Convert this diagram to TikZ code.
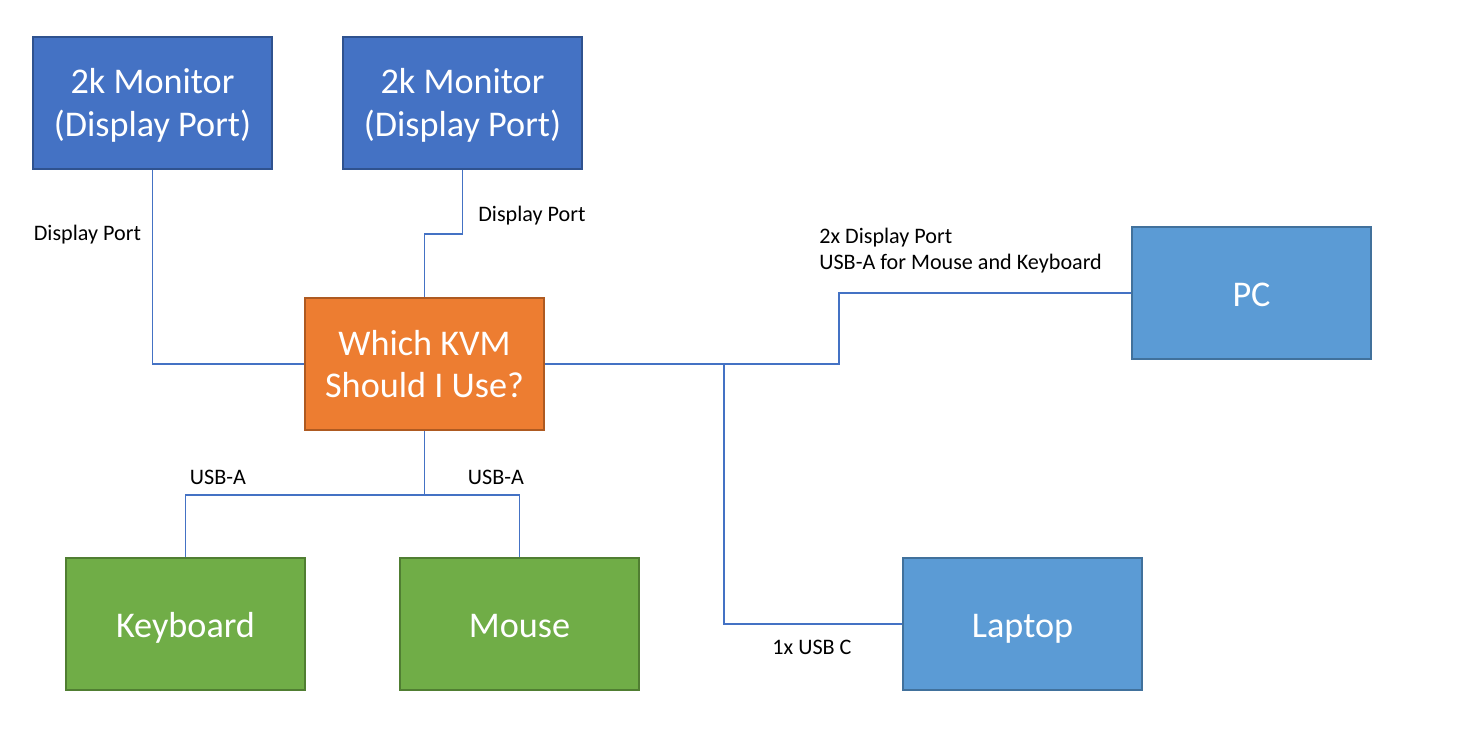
\documentclass[tikz,border=0pt]{standalone}
\usepackage{fontspec}
\setmainfont{Carlito}
\usepackage{tikz}

\definecolor{monblue}{HTML}{4472C4}
\definecolor{monedge}{HTML}{2F528F}
\definecolor{kvmorange}{HTML}{ED7D31}
\definecolor{kvmedge}{HTML}{AE5A21}
\definecolor{hostblue}{HTML}{5B9BD5}
\definecolor{hostedge}{HTML}{41719C}
\definecolor{periphgreen}{HTML}{70AD47}
\definecolor{periphedge}{HTML}{507E32}

\begin{document}
\begin{tikzpicture}[
  box/.style={draw, line width=1.1pt, minimum width=4.78cm, minimum height=2.64cm, align=center,
              text=white, font=\fontsize{20.6}{24.4}\selectfont},
  oneline/.style={text height=16pt, text depth=0.6pt},
  monitor/.style={box, fill=monblue, draw=monedge, text depth=1pt},
  kvmbox/.style={box, fill=kvmorange, draw=kvmedge},
  host/.style={box, oneline, fill=hostblue, draw=hostedge},
  periph/.style={box, oneline, fill=periphgreen, draw=periphedge},
  wire/.style={draw=monblue, line width=0.6pt},
  etiqueta/.style={font=\fontsize{12.6}{14.7}\selectfont, align=left, inner sep=0pt}]
\useasboundingbox (0,0) rectangle (29.3,-14.8);
\node[monitor] (mon1) at (3.05,-2.06) {2k Monitor\\(Display Port)};
\node[monitor] (mon2) at (9.25,-2.06) {2k Monitor\\(Display Port)};
\node[kvmbox] (kvm) at (8.49,-7.28) {Which KVM\\Should I Use?};
\node[host] (pc) at (25.03,-5.86) {PC};
\node[host] (laptop) at (20.45,-12.48) {Laptop};
\node[periph] (kbd) at (3.71,-12.48) {Keyboard};
\node[periph] (mouse) at (10.39,-12.48) {Mouse};
% monitors
\draw[wire] (mon1.south) |- (kvm.west);
\draw[wire] (mon2.south) -- ++(0,-1.28) -| (kvm.north);
% hosts
\draw[wire] (kvm.east) -- ++(5.88,0) |- (pc.west);
\draw[wire] (kvm.east) -- ++(3.58,0) |- (laptop.west);
% keyboard and mouse
\draw[wire] (kvm.south) -- ++(0,-1.28) -| (kbd.north);
\draw[wire] (kvm.south) -- ++(0,-1.28) -| (mouse.north);
% labels
\node[etiqueta, anchor=west] (lbl1) at (0.67,-4.70) {Display Port};
\node[etiqueta, anchor=west] (lbl2) at (9.56,-4.32) {Display Port};
\node[etiqueta, anchor=west] (lblpc) at (16.38,-5.02) {2x Display Port\\USB-A for Mouse and Keyboard};
\node[etiqueta] (lbllap) at (16.24,-12.94) {1x USB C};
\node[etiqueta] (lblkbd) at (4.36,-9.54) {USB-A};
\node[etiqueta] (lblmouse) at (9.92,-9.54) {USB-A};
\end{tikzpicture}
\end{document}
